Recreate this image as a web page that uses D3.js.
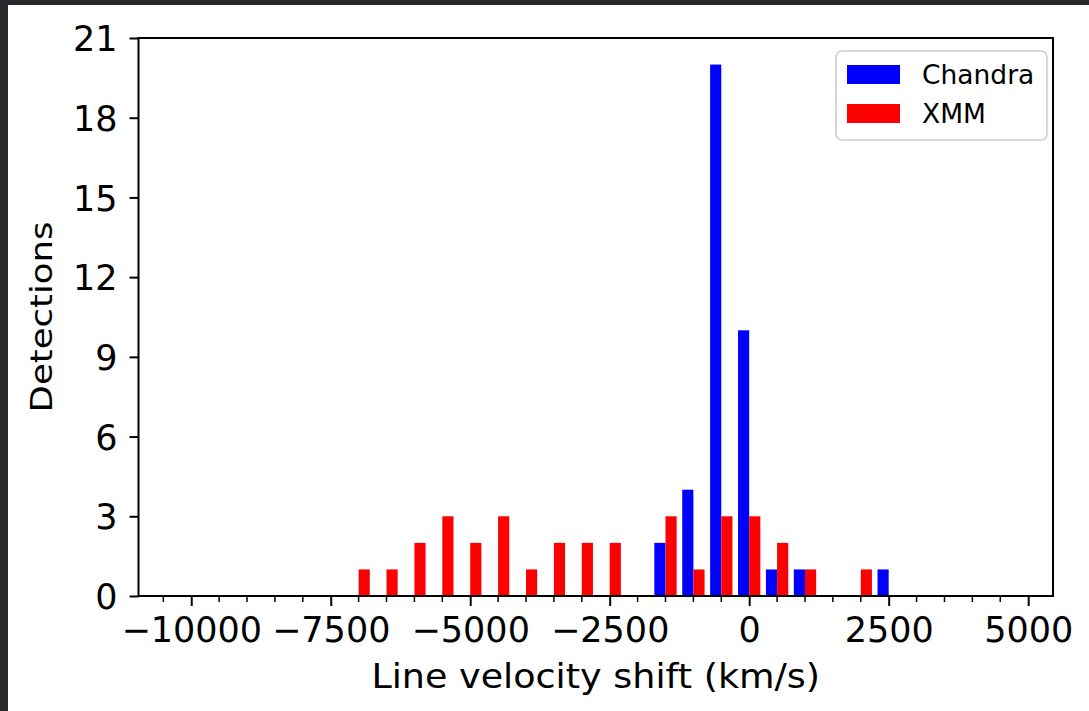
<!DOCTYPE html>
<html>
<head>
<meta charset="utf-8">
<script src="https://cdn.jsdelivr.net/npm/d3@7"></script>
<style>
  html, body { margin: 0; padding: 0; background: #26282c; }
  svg { display: block; }
  text { font-family: "DejaVu Sans", sans-serif; fill: #000; }
</style>
</head>
<body>
<svg id="chart" width="1089" height="711"></svg>
<script>
// ---- data ----
const binCenters = [-7000, -6500, -6000, -5500, -5000, -4500, -4000, -3500, -3000, -2500,
                    -2000, -1500, -1000, -500, 0, 500, 1000, 1500, 2000, 2500];
const chandraCounts = [0, 0, 0, 0, 0, 0, 0, 0, 0, 0,
                       0, 2, 4, 20, 10, 1, 1, 0, 0, 1];
const xmmCounts = [1, 1, 2, 3, 2, 3, 1, 2, 2, 2,
                   0, 3, 1, 3, 3, 2, 1, 0, 1, 0];
const seriesNames = ["Chandra", "XMM"];
const seriesColors = ["#0000ff", "#ff0000"];
const xTicks = [-10000, -7500, -5000, -2500, 0, 2500, 5000];
const yTicks = [0, 3, 6, 9, 12, 15, 18, 21];
const binWidth = 500;
const xDomain = [-10945, 5445];
const yDomain = [0, 21];

// ---- layout ----
const svg = d3.select("#chart");
const W = 1089, H = 711;
const plot = { left: 138.5, right: 1053, top: 38, bottom: 596 };

svg.append("rect").attr("x", 8).attr("y", 5).attr("width", W - 8).attr("height", H - 5).attr("fill", "#ffffff");

const x = d3.scaleLinear().domain(xDomain).range([plot.left, plot.right]);
const y = d3.scaleLinear().domain(yDomain).range([plot.bottom, plot.top]);

const barW = binWidth * 0.8 / 2;

// bars
const series = [chandraCounts, xmmCounts];
series.forEach((counts, si) => {
  const g = svg.append("g");
  binCenters.forEach((c, i) => {
    if (counts[i] <= 0) return;
    const x0 = si === 0 ? c - barW : c;
    g.append("rect")
      .attr("x", x(x0))
      .attr("width", x(x0 + barW) - x(x0))
      .attr("y", y(counts[i]))
      .attr("height", y(0) - y(counts[i]))
      .attr("fill", seriesColors[si]);
  });
});

// axes
const xAxis = d3.axisBottom(x).tickValues(xTicks).tickSize(10).tickPadding(0)
  .tickFormat(d => d < 0 ? "\u2212" + Math.abs(d) : String(d));
const gx = svg.append("g").attr("transform", `translate(0,${plot.bottom})`).call(xAxis);
gx.select(".domain").remove();
gx.selectAll(".tick line").attr("stroke", "#000").attr("stroke-width", 2);
gx.selectAll(".tick text").attr("y", 46).attr("dy", 0).style("font-size", "35px").style("font-family", "DejaVu Sans");

// minor x ticks
const minor = d3.range(-10500, 5500, 500).filter(v => v % 2500 !== 0 && v >= xDomain[0] && v <= xDomain[1]);
svg.append("g").selectAll("line").data(minor).join("line")
  .attr("x1", d => x(d)).attr("x2", d => x(d))
  .attr("y1", plot.bottom).attr("y2", plot.bottom + 6)
  .attr("stroke", "#000").attr("stroke-width", 1.5);

const yAxis = d3.axisLeft(y).tickValues(yTicks).tickSize(9).tickPadding(12);
const gy = svg.append("g").attr("transform", `translate(${plot.left},0)`).call(yAxis);
gy.select(".domain").remove();
gy.selectAll(".tick line").attr("stroke", "#000").attr("stroke-width", 2);
gy.selectAll(".tick text").attr("dy", "0.36em").style("font-size", "35px").style("font-family", "DejaVu Sans");

// spines
svg.append("rect")
  .attr("x", plot.left).attr("y", plot.top)
  .attr("width", plot.right - plot.left).attr("height", plot.bottom - plot.top)
  .attr("fill", "none").attr("stroke", "#000").attr("stroke-width", 2);

// axis labels
svg.append("text")
  .attr("transform", `translate(${(plot.left + plot.right) / 2},688) scale(1,0.92)`)
  .attr("text-anchor", "middle").style("font-size", "36.5px")
  .text("Line velocity shift (km/s)");
svg.append("text")
  .attr("transform", `translate(52,${(plot.top + plot.bottom) / 2}) rotate(-90) scale(1,0.85)`)
  .attr("text-anchor", "middle").style("font-size", "35.5px")
  .text("Detections");

// legend
const lg = svg.append("g");
lg.append("rect").attr("x", 836).attr("y", 51).attr("width", 211).attr("height", 89)
  .attr("rx", 6).attr("fill", "rgba(255,255,255,0.8)").attr("stroke", "#cccccc").attr("stroke-width", 1.5);
const legendRows = [75, 114];
seriesNames.forEach((name, i) => {
  lg.append("rect").attr("x", 847).attr("y", legendRows[i] - 10).attr("width", 53).attr("height", 19)
    .attr("fill", seriesColors[i]);
  lg.append("text").attr("x", 922).attr("y", legendRows[i] + 9).style("font-size", "26.5px").text(name);
});
</script>
</body>
</html>
